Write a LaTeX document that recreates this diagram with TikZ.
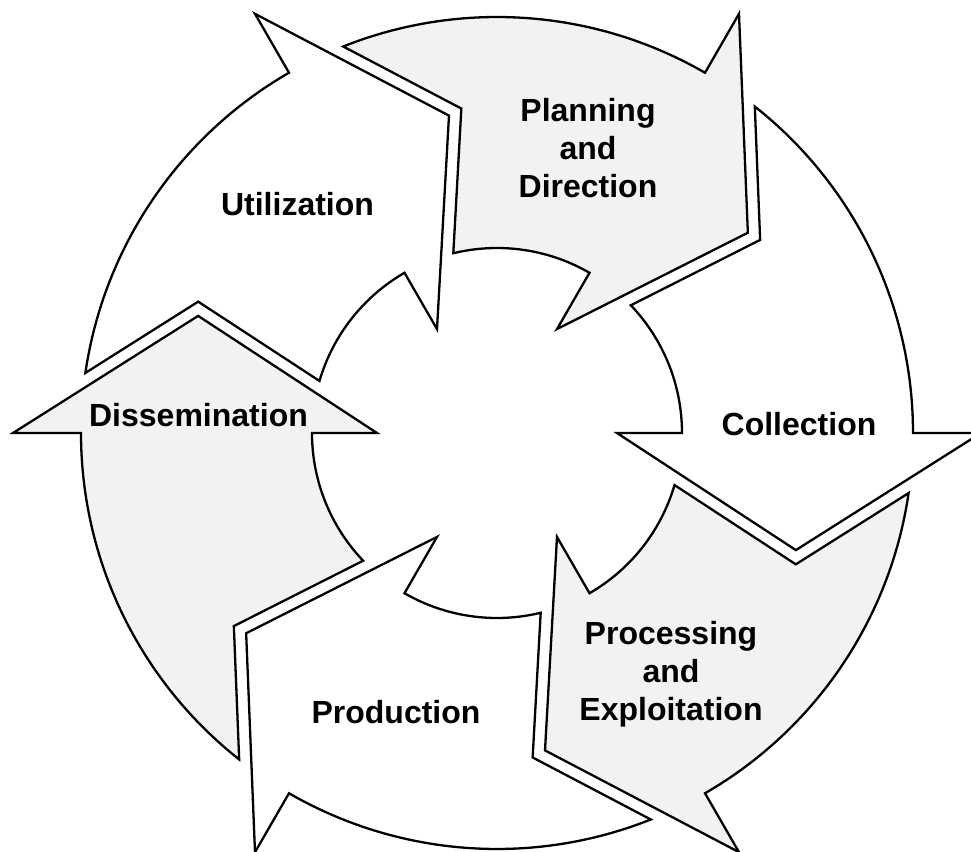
\documentclass[tikz,border=0pt]{standalone}
\usepackage{fontspec}
\setmainfont{Liberation Sans}
\definecolor{arrowgray}{HTML}{F2F2F2}
\begin{document}
\begin{tikzpicture}[
  arrowshape/.style={draw=black, line width=2.3pt, line join=miter, miter limit=20},
  lbl/.style={font=\fontsize{32}{38}\selectfont\bfseries, align=center, inner sep=0pt}]
\useasboundingbox (-497pt,-418pt) rectangle (474pt,433pt);
\clip (-497pt,-418pt) rectangle (474pt,433pt);
\foreach \ang/\col in {0/white, 60/arrowgray, 120/white, 180/arrowgray, 240/white, 300/arrowgray}{
  \begin{scope}[rotate=\ang]
    \draw[arrowshape, fill=\col] (51.7:416pt) arc[start angle=51.7, end angle=0, radius=416pt]
      -- (0:484pt) -- (-21.4:321pt) -- (0:120pt) -- (0:185pt)
      arc[start angle=0, end angle=43.66, radius=185pt] -- (36.27:326.4pt) -- cycle;
  \end{scope}
}
\node[lbl, anchor=base] (col) at (302pt,-3pt) {Collection};
\node[lbl, anchor=base] (dis) at (-298.5pt,6pt) {Dissemination};
\node[lbl, anchor=base] (prod) at (-101pt,-290pt) {Production};
\node[lbl, anchor=base] (util) at (-199.5pt,217pt) {Utilization};
\node[lbl] (plan) at (91pt,285pt) {Planning\\and\\Direction};
\node[lbl] (proc) at (174pt,-241pt) {Processing\\and\\Exploitation};
\end{tikzpicture}
\end{document}
